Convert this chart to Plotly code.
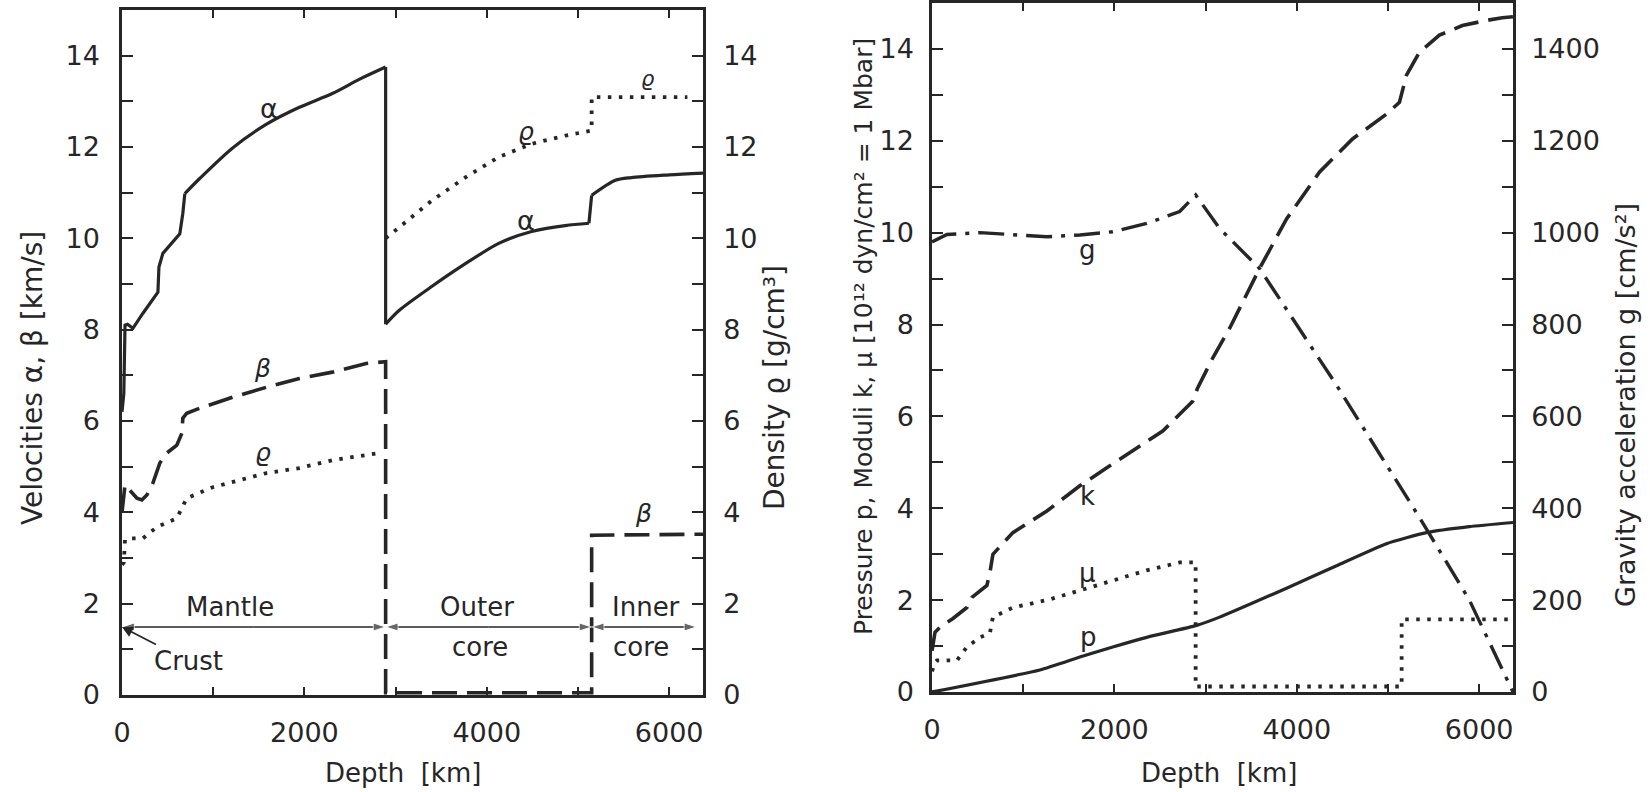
import plotly.graph_objects as go

W, H = 1650, 792
INK = "#262626"
FONT = "DejaVu Sans"

# ---------------- left panel data (depth km) ----------------
alpha_mantle_depth = [0, 20, 33, 60, 120, 230, 394, 405, 448, 557, 634, 667, 689, 852, 1213, 1585, 1945, 2306, 2601, 2891]
alpha_mantle_val = [6.2, 6.6, 8.1, 8.12, 8.03, 8.36, 8.82, 9.37, 9.67, 9.91, 10.1, 10.55, 10.98, 11.31, 11.98, 12.5, 12.87, 13.17, 13.48, 13.75]
alpha_core_depth = [2891, 3038, 3400, 3770, 4131, 4492, 4860, 5120, 5150, 5410, 5585, 6000, 6371]
alpha_core_val = [8.12, 8.42, 8.95, 9.45, 9.89, 10.15, 10.28, 10.33, 10.94, 11.27, 11.33, 11.39, 11.43]

beta_depth = [0, 33, 55, 164, 218, 273, 339, 415, 492, 601, 656, 667, 710, 852, 1213, 1585, 1945, 2306, 2677, 2891, 2891, 5150, 5150, 6371]
beta_val = [4.0, 4.6, 4.55, 4.31, 4.27, 4.38, 4.64, 5.08, 5.3, 5.47, 5.73, 6.06, 6.17, 6.28, 6.52, 6.74, 6.93, 7.07, 7.26, 7.3, 0.05, 0.05, 3.5, 3.52]

rho_mantle_depth = [0, 20, 33, 110, 230, 383, 601, 656, 710, 995, 1585, 1945, 2306, 2820]
rho_mantle_val = [2.85, 2.9, 3.4, 3.43, 3.43, 3.68, 3.87, 4.11, 4.31, 4.55, 4.86, 4.97, 5.14, 5.3]
rho_core_depth = [2891, 3038, 3400, 3770, 4131, 4492, 4863, 5150, 5150, 6200]
rho_core_val = [10.0, 10.24, 10.83, 11.34, 11.78, 12.07, 12.25, 12.36, 13.09, 13.09]

# region bar (depth limits of layers) and its height on the velocity axis
layer_bounds = [0, 2891, 5150, 6300]
layer_bar_level = 1.49

# ---------------- right panel data ----------------
p_depth = [0, 1183, 1621, 1982, 2355, 2902, 3154, 3888, 4436, 4983, 5422, 5893, 6371]
p_val = [0, 0.48, 0.76, 0.98, 1.19, 1.45, 1.63, 2.26, 2.75, 3.23, 3.47, 3.6, 3.69]

k_depth = [0, 33, 88, 230, 383, 438, 602, 635, 668, 887, 1260, 1621, 1917, 2201, 2530, 2859, 2913, 3078, 3264, 3592, 3888, 4250, 4611, 4983, 5126, 5203, 5345, 5564, 5816, 6079, 6254, 6371]
k_val = [0.9, 1.3, 1.41, 1.6, 1.84, 2.06, 2.32, 2.6, 3.0, 3.47, 3.94, 4.49, 4.88, 5.25, 5.68, 6.33, 6.62, 7.27, 7.92, 9.22, 10.3, 11.32, 12.04, 12.58, 12.84, 13.43, 13.93, 14.3, 14.51, 14.62, 14.68, 14.7]

mu_depth = [0, 33, 55, 274, 383, 526, 635, 668, 887, 1260, 1621, 1982, 2355, 2716, 2891, 2891, 5150, 5150, 6371]
mu_val = [0.45, 0.65, 0.69, 0.69, 0.98, 1.19, 1.28, 1.63, 1.84, 2.0, 2.21, 2.43, 2.65, 2.82, 2.82, 0.12, 0.12, 1.58, 1.58]

g_depth = [0, 164, 526, 1260, 1621, 1982, 2355, 2716, 2891, 3154, 3592, 4436, 5345, 5893, 6371]
g_val = [980, 996, 1000, 991, 995, 1002, 1020, 1046, 1082, 1009, 922, 668, 380, 200, 0]

fig = go.Figure()

def line(x, y, xa, ya, width, dash=None, smooth=0):
    fig.add_trace(go.Scatter(x=x, y=y, xaxis=xa, yaxis=ya, mode="lines",
                             line=dict(color=INK, width=width, dash=dash,
                                       shape="spline" if smooth else "linear",
                                       smoothing=smooth if smooth else None),
                             showlegend=False, hoverinfo="skip"))

DOT = "3.5px,7.5px"
DASH = "25px,10px"
DASHDOT = "26px,9px,4px,9px"

# alpha: rough upper-mantle part, smooth lower mantle, CMB drop, smooth outer core, ICB step, inner core
line(alpha_mantle_depth[:13], alpha_mantle_val[:13], "x", "y", 3.2)
line(alpha_mantle_depth[12:], alpha_mantle_val[12:], "x", "y", 3.2, smooth=0.8)
line([alpha_mantle_depth[-1], alpha_core_depth[0]], [alpha_mantle_val[-1], alpha_core_val[0]], "x", "y", 3.2)
line(alpha_core_depth[:8], alpha_core_val[:8], "x", "y", 3.2, smooth=0.8)
line(alpha_core_depth[7:9], alpha_core_val[7:9], "x", "y", 3.2)
line(alpha_core_depth[8:], alpha_core_val[8:], "x", "y", 3.2, smooth=0.8)

line(beta_depth, beta_val, "x", "y", 3.6, DASH)
line(rho_mantle_depth, rho_mantle_val, "x", "y2", 3.8, DOT)
line(rho_core_depth, rho_core_val, "x", "y2", 3.8, DOT)

line(p_depth, p_val, "x2", "y3", 3.2, smooth=0.5)
line(k_depth, k_val, "x2", "y3", 3.6, DASH)
line(mu_depth, mu_val, "x2", "y3", 3.8, DOT)
line(g_depth, g_val, "x2", "y4", 3.4, DASHDOT)

# layer bar with arrowheads at both ends of each layer
for a, b in zip(layer_bounds[:-1], layer_bounds[1:]):
    mid = (a + b) / 2
    for end in (a, b):
        fig.add_trace(go.Scatter(
            x=[mid, end], y=[layer_bar_level, layer_bar_level], xaxis="x", yaxis="y",
            mode="lines+markers", line=dict(color=INK, width=1.6),
            marker=dict(symbol="arrow", size=[0, 13], angleref="previous", color=INK),
            showlegend=False, hoverinfo="skip"))

tickfont = dict(family=FONT, size=27, color=INK)

def xax(dom, anchor):
    return dict(domain=dom, range=[0, 6371], anchor=anchor, showline=True, linecolor=INK,
                linewidth=2.5, mirror="ticks", ticks="inside", ticklen=8, tickwidth=2,
                tickcolor=INK, tick0=0, dtick=2000,
                minor=dict(dtick=1000, ticks="inside", ticklen=8, tickwidth=2, tickcolor=INK),
                showgrid=False, zeroline=False, tickfont=tickfont, ticklabelstandoff=12,
                automargin=False)

def yax(dom, anchor, rng, step, side="left", overlaying=None, standoff=12):
    d = dict(domain=dom, range=rng, anchor=anchor, side=side, showline=True, linecolor=INK,
             linewidth=2.5, ticks="inside", ticklen=11, tickwidth=2, tickcolor=INK,
             tick0=0, dtick=2 * step,
             minor=dict(dtick=step, ticks="inside", ticklen=11, tickwidth=2, tickcolor=INK),
             showgrid=False, zeroline=False, tickfont=tickfont,
             ticklabelstandoff=standoff, automargin=False)
    if overlaying:
        d["overlaying"] = overlaying
    return d

ldom_y = [1 - 695 / H, 1 - 10 / H]
rdom_y = [1 - 692 / H, 1 - 3 / H]

fig.update_layout(
    template="none",
    width=W, height=H, margin=dict(l=0, r=0, t=0, b=0, autoexpand=False),
    paper_bgcolor="white", plot_bgcolor="white",
    font=dict(family=FONT, color=INK),
    xaxis=xax([122 / W, 703 / W], "y"),
    yaxis=yax(ldom_y, "x", [0, 15], 1, standoff=14),
    yaxis2=yax(ldom_y, "x", [0, 15], 1, side="right", overlaying="y", standoff=12),
    xaxis2=xax([932 / W, 1513 / W], "y3"),
    yaxis3=yax(rdom_y, "x2", [0, 15], 1, standoff=10),
    yaxis4=yax(rdom_y, "x2", [0, 1500], 100, side="right", overlaying="y3", standoff=10),
)

anns = []
def lab(text, x, y, xref, yref, size=26, italic=False):
    anns.append(dict(text=text, x=x, y=y, xref=xref, yref=yref, showarrow=False,
                     font=dict(family=FONT, size=size, color=INK,
                               style="italic" if italic else "normal")))

# curve labels left
lab("α", 1617, 12.85, "x", "y", 27)
lab("β", 1541, 7.15, "x", "y", 25, True)
lab("ϱ", 1541, 5.3, "x", "y", 25, True)
lab("ϱ", 4426, 12.35, "x", "y", 25, True)
lab("α", 4426, 10.4, "x", "y", 27)
lab("ϱ", 5770, 13.5, "x", "y", 21, True)
lab("β", 5716, 3.98, "x", "y", 25, True)
# region labels
lab("Mantle", 1180, 1.92, "x", "y")
lab("Outer", 3890, 1.92, "x", "y")
lab("core", 3923, 1.05, "x", "y")
lab("Inner", 5749, 1.92, "x", "y")
lab("core", 5694, 1.05, "x", "y")
# right labels
lab("g", 1709, 9.63, "x2", "y3")
lab("k", 1709, 4.27, "x2", "y3")
lab("μ", 1709, 2.6, "x2", "y3")
lab("p", 1720, 1.19, "x2", "y3")

# crust arrow
anns.append(dict(x=0, y=layer_bar_level, xref="x", yref="y", ax=66, ay=34, text="Crust",
                 showarrow=True, arrowhead=2, arrowsize=1.2, arrowwidth=1.8, arrowcolor=INK,
                 font=dict(family=FONT, size=26, color=INK)))

# axis titles
def title(text, px, py, size, angle=0):
    anns.append(dict(text=text, x=px / W, y=1 - py / H, xref="paper", yref="paper",
                     showarrow=False, textangle=angle, xanchor="center", yanchor="middle",
                     font=dict(family=FONT, size=size, color=INK)))

title("Velocities α, β [km/s]", 32, 378, 28, -90)
title("Density ϱ [g/cm³]", 775, 388, 28, -90)
title("Pressure p, Moduli k, μ [10¹² dyn/cm² = 1 Mbar]", 863, 337, 25, -90)
title("Gravity acceleration g [cm/s²]", 1625, 405, 27, -90)
title("Depth\u00a0\u00a0[km]", 403, 773, 26)
title("Depth\u00a0\u00a0[km]", 1219, 773, 26)

fig.update_layout(annotations=anns)
fig.write_html("out.html")
